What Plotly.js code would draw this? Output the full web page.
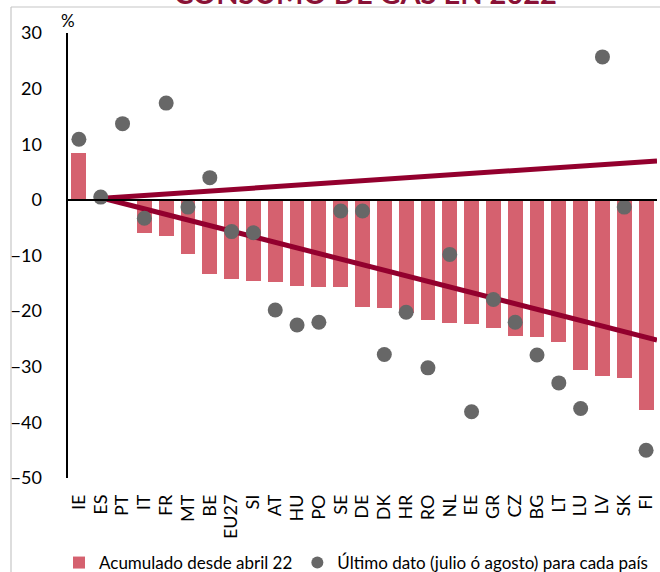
<!DOCTYPE html>
<html>
<head>
<meta charset="utf-8">
<script src="https://cdn.plot.ly/plotly-3.0.1.min.js"></script>
<style>
  html, body { margin: 0; padding: 0; background: #ffffff; }
  #chart { width: 660px; height: 572px; }
</style>
</head>
<body>
<div id="chart"></div>
<script>
// ---- data ----
const countries = ['IE','ES','PT','IT','FR','MT','BE','EU27','SI','AT','HU','PO','SE','DE','DK','HR','RO','NL','EE','GR','CZ','BG','LT','LU','LV','SK','FI'];
const acumulado = [8.5, 0.2, -0.1, -6.0, -6.5, -9.7, -13.4, -14.3, -14.5, -14.8, -15.4, -15.6, -15.6, -19.3, -19.5, -20.3, -21.6, -22.1, -22.3, -23.0, -24.4, -24.6, -25.5, -30.6, -31.7, -32.0, -37.8];
const ultimo = [10.9, 0.5, 13.7, -3.3, 17.4, -1.3, 4.0, -5.7, -5.9, -19.8, -22.5, -22.0, -2.0, -2.0, -27.8, -20.2, -30.2, -9.8, -38.1, -17.9, -22.0, -27.9, -32.9, -37.5, 25.7, -1.3, -45.0];
const trendX = [1.1, 26.5];
const trendUp = [0.3, 7.0];
const trendDown = [0.3, -25.2];
const yTicks = [30, 20, 10, 0, -10, -20, -30, -40, -50];
const titleText = 'CONSUMO DE GAS EN 2022';
const unitText = '%';
const nameBars = 'Acumulado desde abril 22';
const nameDots = 'Último dato (julio ó agosto) para cada país';

const idx = countries.map((_, i) => i);
const FONT = 'Lato, "Open Sans", sans-serif';

const traces = [
  {
    type: 'bar', x: idx, y: acumulado, name: nameBars,
    width: 0.68,
    marker: { color: '#d5616f', line: { width: 0 } },
    hoverinfo: 'skip'
  },
  {
    type: 'scatter', mode: 'lines', x: trendX, y: trendUp,
    line: { color: '#93002e', width: 5 }, showlegend: false, hoverinfo: 'skip'
  },
  {
    type: 'scatter', mode: 'lines', x: trendX, y: trendDown,
    line: { color: '#93002e', width: 5 }, showlegend: false, hoverinfo: 'skip'
  },
  {
    type: 'scatter', mode: 'markers', x: idx, y: ultimo, name: nameDots,
    marker: { color: '#676767', size: 15 }, hoverinfo: 'skip'
  }
];

const plotL = 68, plotR = 657, plotT = 33, plotB = 478;
const pw = plotR - plotL, ph = plotB - plotT;
const px = v => (v - plotL) / pw;
const py = v => (plotB - v) / ph;

const layout = {
  width: 660, height: 572,
  margin: { l: plotL, r: 660 - plotR, t: plotT, b: 572 - plotB, pad: 0, autoexpand: false },
  paper_bgcolor: '#ffffff', plot_bgcolor: '#ffffff',
  font: { family: FONT, color: '#000000', size: 17 },
  showlegend: true,
  bargap: 0,
  xaxis: {
    type: 'linear', range: [-0.5, 26.5],
    tickmode: 'array', tickvals: idx, ticktext: countries,
    tickangle: -90, ticks: '', showgrid: false, zeroline: false, showline: false,
    ticklabelstandoff: 12, automargin: false,
    tickfont: { family: FONT, size: 18, color: '#000000' },
    fixedrange: true
  },
  yaxis: {
    range: [-50, 30], tickmode: 'array', tickvals: yTicks,
    ticks: '', showgrid: false, zeroline: false,
    showline: true, linecolor: '#000000', linewidth: 2.5,
    ticklabelstandoff: 20, automargin: false,
    tickfont: { family: FONT, size: 18, color: '#000000' },
    fixedrange: true
  },
  legend: {
    orientation: 'h', x: px(59), xanchor: 'left', y: py(563), yanchor: 'middle',
    font: { family: FONT, size: 17, color: '#000000' },
    bgcolor: 'rgba(0,0,0,0)', itemsizing: 'constant', traceorder: 'normal'
  },
  shapes: [
    { type: 'line', xref: 'paper', yref: 'y', x0: 0, x1: 1, y0: 0, y1: 0,
      line: { color: '#000000', width: 2 }, layer: 'above' },
    { type: 'line', xref: 'paper', yref: 'paper', x0: px(11), x1: px(11), y0: py(600), y1: py(7),
      line: { color: '#c6c6c6', width: 1.2 }, layer: 'below' },
    { type: 'line', xref: 'paper', yref: 'paper', x0: px(11), x1: px(680), y0: py(7), y1: py(7),
      line: { color: '#c6c6c6', width: 1.2 }, layer: 'below' }
  ],
  annotations: [
    { text: titleText, xref: 'paper', yref: 'paper', x: px(365), y: py(12), xanchor: 'center', yanchor: 'bottom',
      showarrow: false, font: { family: FONT, size: 29, color: '#8a1236', weight: 'bold' } },
    { text: unitText, xref: 'paper', yref: 'paper', x: px(68), y: py(21), xanchor: 'center', yanchor: 'middle',
      showarrow: false, font: { family: FONT, size: 17, color: '#000000' } }
  ]
};

Plotly.newPlot('chart', traces, layout, { staticPlot: true, displayModeBar: false });
</script>
</body>
</html>
